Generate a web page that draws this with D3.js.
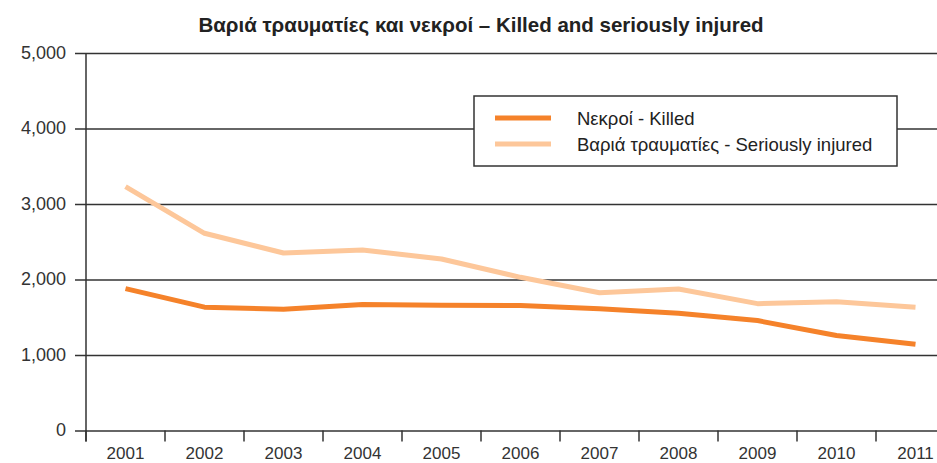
<!DOCTYPE html>
<html>
<head>
<meta charset="utf-8">
<script src="https://cdn.jsdelivr.net/npm/d3@7"></script>
<style>
  html, body { margin: 0; padding: 0; background: #fff; }
  svg { display: block; }
</style>
</head>
<body>
<svg id="chart" width="937" height="463"></svg>
<script>
// Road casualties in Greece, 2001–2011
const years = ["2001","2002","2003","2004","2005","2006","2007","2008","2009","2010","2011"];
const killed = [1880, 1634, 1605, 1670, 1658, 1657, 1612, 1553, 1456, 1258, 1141];
const seriouslyInjured = [3229, 2612, 2351, 2391, 2272, 2029, 1825, 1874, 1680, 1706, 1632];
const yTicks = [0, 1000, 2000, 3000, 4000, 5000];
const seriesNames = ["Νεκροί - Killed", "Βαριά τραυματίες - Seriously injured"];
const seriesColors = ["#f5822a", "#fdc79a"];
const titleText = "Βαριά τραυματίες και νεκροί – Killed and seriously injured";

(function () {
  const svg = d3.select("#chart");
  const W = 937;
  const plotLeft = 86, plotRight = 955, plotTop = 53, plotBottom = 430.5;
  const ink = "#333";
  const font = "'Liberation Sans', Arial, sans-serif";

  const x = d3.scaleBand().domain(years).range([plotLeft, plotRight]);
  const y = d3.scaleLinear().domain([0, 5000]).range([plotBottom, plotTop]);

  // title
  svg.append("text")
    .attr("x", 481).attr("y", 32)
    .attr("text-anchor", "middle")
    .attr("font-family", font)
    .attr("font-weight", "bold")
    .attr("font-size", 20.5)
    .attr("fill", "#222")
    .text(titleText);

  // horizontal gridlines with y labels
  const yAxis = d3.axisLeft(y).tickValues(yTicks)
    .tickSize(-(W - plotLeft + 10)).tickPadding(8)
    .tickFormat(d3.format(","));
  const gy = svg.append("g").attr("transform", `translate(${plotLeft},0)`).call(yAxis);
  gy.select(".domain").remove();
  gy.selectAll(".tick line")
    .attr("x1", -11)
    .attr("stroke", ink).attr("stroke-width", 1.5);
  gy.selectAll(".tick text")
    .attr("x", -20).attr("dy", "0.28em")
    .attr("font-family", font).attr("font-size", 18).attr("fill", ink);

  // vertical axis line
  svg.append("line")
    .attr("x1", plotLeft).attr("x2", plotLeft)
    .attr("y1", plotTop).attr("y2", plotBottom + 11)
    .attr("stroke", ink).attr("stroke-width", 1.5);

  // x axis: ticks at band boundaries, labels at band centres
  const boundaries = years.map(d => x(d)).concat([x(years[years.length - 1]) + x.bandwidth()]);
  svg.append("g").selectAll("line").data(boundaries).join("line")
    .attr("x1", d => d).attr("x2", d => d)
    .attr("y1", plotBottom).attr("y2", plotBottom + 11)
    .attr("stroke", ink).attr("stroke-width", 1.5);
  svg.append("g").selectAll("text").data(years).join("text")
    .attr("x", d => x(d) + x.bandwidth() / 2)
    .attr("y", 458.5)
    .attr("text-anchor", "middle")
    .attr("font-family", font).attr("font-size", 17).attr("fill", ink)
    .text(d => d);

  // series lines
  const line = d3.line()
    .x((d, i) => x(years[i]) + x.bandwidth() / 2)
    .y(d => y(d));
  [[seriouslyInjured, seriesColors[1]], [killed, seriesColors[0]]].forEach(([vals, color]) => {
    svg.append("path")
      .datum(vals)
      .attr("d", line)
      .attr("fill", "none")
      .attr("stroke", color)
      .attr("stroke-width", 5)
      .attr("stroke-linejoin", "round");
  });

  // legend
  const lg = svg.append("g");
  lg.append("rect")
    .attr("x", 474).attr("y", 96).attr("width", 423).attr("height", 70)
    .attr("fill", "#fff").attr("stroke", ink).attr("stroke-width", 1.5);
  seriesNames.forEach((name, i) => {
    const cy = 118 + i * 26;
    lg.append("line")
      .attr("x1", 495).attr("x2", 551).attr("y1", cy).attr("y2", cy)
      .attr("stroke", seriesColors[i]).attr("stroke-width", 5);
    lg.append("text")
      .attr("x", 577).attr("y", 125 + i * 25.7)
      .attr("font-family", font).attr("font-size", 18.5).attr("fill", "#222")
      .text(name);
  });
})();
</script>
</body>
</html>
